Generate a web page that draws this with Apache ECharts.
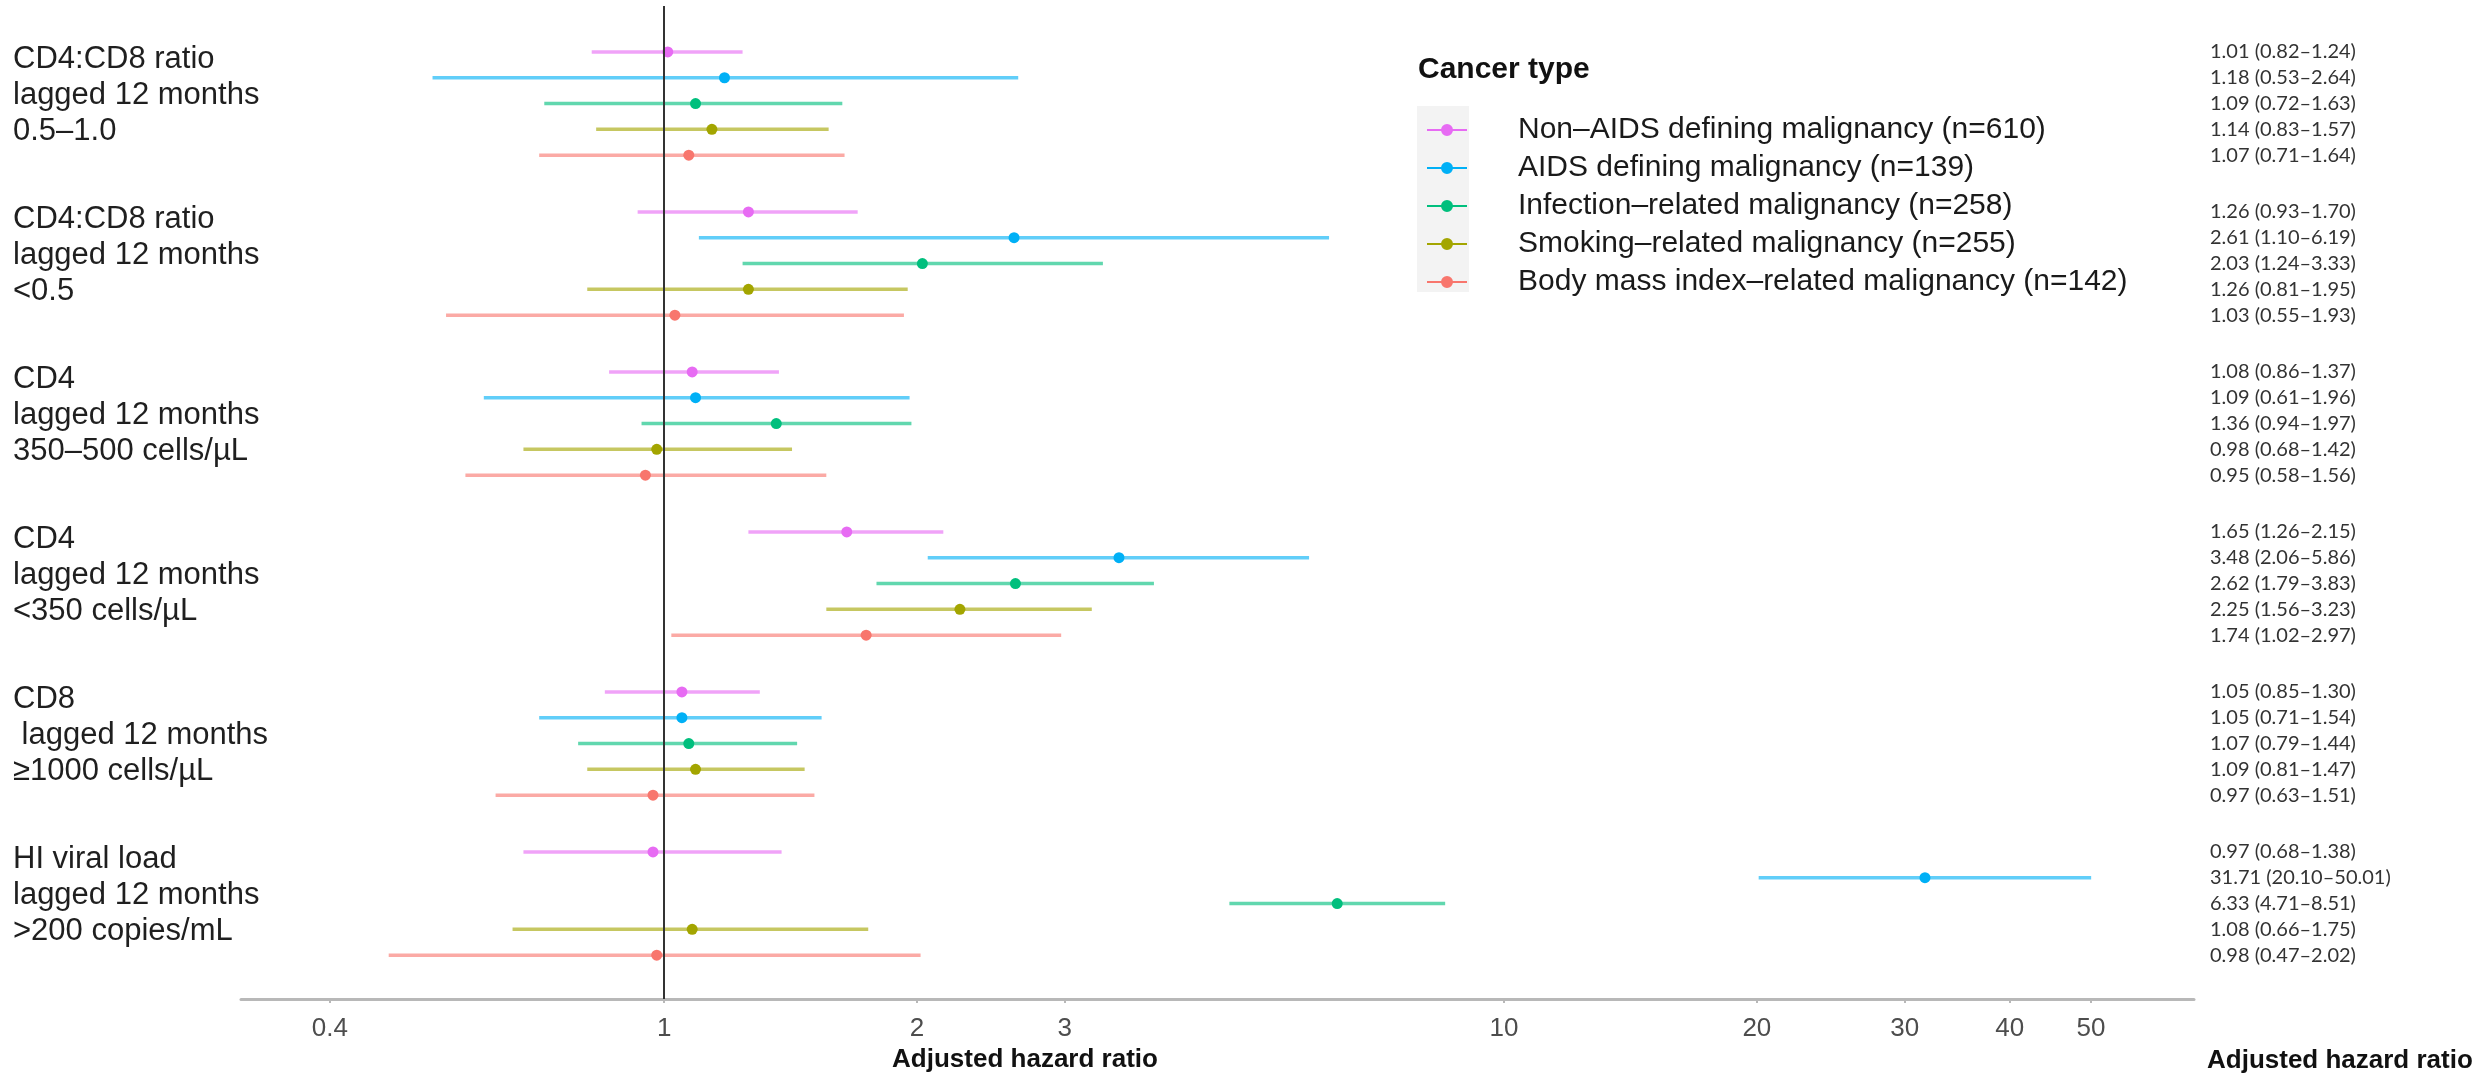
<!DOCTYPE html>
<html>
<head>
<meta charset="utf-8">
<script src="https://cdn.jsdelivr.net/npm/echarts@6/dist/echarts.min.js"></script>
<style>html,body{margin:0;padding:0;background:#fff;}#chart{width:2491px;height:1074px;}</style>
</head>
<body>
<div id="chart"></div>
<script>
// ---------------- data ----------------
const groupLabels = [
  'CD4:CD8 ratio\nlagged 12 months\n0.5–1.0',
  'CD4:CD8 ratio\nlagged 12 months\n<0.5',
  'CD4\nlagged 12 months\n350–500 cells/µL',
  'CD4\nlagged 12 months\n<350 cells/µL',
  'CD8\n lagged 12 months\n≥1000 cells/µL',
  'HI viral load\nlagged 12 months\n>200 copies/mL'
];
const cancerTypes = [
  'Non–AIDS defining malignancy (n=610)',
  'AIDS defining malignancy (n=139)',
  'Infection–related malignancy (n=258)',
  'Smoking–related malignancy (n=255)',
  'Body mass index–related malignancy (n=142)'
];
// hazard ratios and 95% CI per cancer type, one value per exposure group
const hrNonAids   = [1.01, 1.26, 1.08, 1.65, 1.05, 0.97];
const lowNonAids  = [0.82, 0.93, 0.86, 1.26, 0.85, 0.68];
const highNonAids = [1.24, 1.70, 1.37, 2.15, 1.30, 1.38];

const hrAids   = [1.18, 2.61, 1.09, 3.48, 1.05, 31.71];
const lowAids  = [0.53, 1.10, 0.61, 2.06, 0.71, 20.10];
const highAids = [2.64, 6.19, 1.96, 5.86, 1.54, 50.01];

const hrInfection   = [1.09, 2.03, 1.36, 2.62, 1.07, 6.33];
const lowInfection  = [0.72, 1.24, 0.94, 1.79, 0.79, 4.71];
const highInfection = [1.63, 3.33, 1.97, 3.83, 1.44, 8.51];

const hrSmoking   = [1.14, 1.26, 0.98, 2.25, 1.09, 1.08];
const lowSmoking  = [0.83, 0.81, 0.68, 1.56, 0.81, 0.66];
const highSmoking = [1.57, 1.95, 1.42, 3.23, 1.47, 1.75];

const hrBmi   = [1.07, 1.03, 0.95, 1.74, 0.97, 0.98];
const lowBmi  = [0.71, 0.55, 0.58, 1.02, 0.63, 0.47];
const highBmi = [1.64, 1.93, 1.56, 2.97, 1.51, 2.02];

const xTickValues = [0.4, 1, 2, 3, 10, 20, 30, 40, 50];

// ---------------- build ----------------
const colors = ['#E76BF3', '#00B0F6', '#00BF7D', '#A3A500', '#F8766D'];
const hrs   = [hrNonAids, hrAids, hrInfection, hrSmoking, hrBmi];
const lows  = [lowNonAids, lowAids, lowInfection, lowSmoking, lowBmi];
const highs = [highNonAids, highAids, highInfection, highSmoking, highBmi];

const GROUP_STEP = 6.2;
const yPos = (g, t) => g * GROUP_STEP + t;
const key = v => (Math.round(v * 100) / 100).toFixed(2);

const rightText = {};
const rightValues = [];
groupLabels.forEach((_, g) => {
  cancerTypes.forEach((_, t) => {
    const y = yPos(g, t);
    rightValues.push(y);
    rightText[key(y)] = hrs[t][g].toFixed(2) + ' (' + lows[t][g].toFixed(2) + '–' + highs[t][g].toFixed(2) + ')';
  });
});
const LABEL_ROW = 1.7; // group label block centre (slightly above middle row)
const leftText = {};
const leftValues = groupLabels.map((lab, g) => { const y = yPos(g, LABEL_ROW); leftText[key(y)] = lab; return y; });

const Y_MIN = -1.78, Y_MAX = 36.7;

function renderItem(params, api) {
  const y = api.value(3);
  const c = api.coord([api.value(0), y]);
  const a = api.coord([api.value(1), y]);
  const b = api.coord([api.value(2), y]);
  const color = api.visual('color');
  return {
    type: 'group',
    children: [
      { type: 'line', shape: { x1: a[0], y1: a[1], x2: b[0], y2: b[1] },
        style: { stroke: color, lineWidth: 3.5, opacity: 0.62 } },
      { type: 'circle', shape: { cx: c[0], cy: c[1], r: 5.5 }, style: { fill: color } }
    ]
  };
}

const series = cancerTypes.map((name, t) => ({
  name: name,
  type: 'custom',
  renderItem: renderItem,
  color: colors[t],
  itemStyle: { color: colors[t] },
  encode: { x: [0, 1, 2], y: 3 },
  data: groupLabels.map((_, g) => [hrs[t][g], lows[t][g], highs[t][g], yPos(g, t)]),
  z: 2
}));
series[0].markLine = {
  silent: true, symbol: ['none', 'none'], label: { show: false },
  lineStyle: { color: '#333', width: 2, type: 'solid', opacity: 1 },
  emphasis: { disabled: true },
  data: [{ xAxis: 1 }],
  z: 5
};

const FONT = 'Liberation Sans, Arial, sans-serif';
const chart = echarts.init(document.getElementById('chart'), null, { renderer: 'canvas' });
chart.setOption({
  animation: false,
  backgroundColor: '#ffffff',
  textStyle: { fontFamily: FONT },
  grid: { left: 241, right: 297, top: 6, bottom: 75, containLabel: false },
  xAxis: {
    type: 'log', logBase: 10, min: 0.3135, max: 66.3,
    axisLine: { show: true, onZero: false, lineStyle: { color: '#b8b8b8', width: 3 } },
    axisTick: { show: true, customValues: xTickValues, length: 4, lineStyle: { color: '#b8b8b8', width: 2 } },
    axisLabel: {
      customValues: xTickValues, margin: 17, fontSize: 26, color: '#4d4d4d', fontFamily: FONT,
      formatter: v => String(+(+v).toPrecision(3))
    },
    splitLine: { show: false }, minorTick: { show: false }, minorSplitLine: { show: false }
  },
  yAxis: [{
    type: 'value', inverse: true, min: Y_MIN, max: Y_MAX,
    axisLine: { show: false }, axisTick: { show: false }, splitLine: { show: false },
    axisLabel: {
      customValues: leftValues, align: 'left', margin: 228, fontSize: 31, lineHeight: 36,
      color: '#1f1f1f', fontFamily: FONT, verticalAlign: 'middle',
      formatter: v => leftText[key(v)] || ''
    }
  }, {
    type: 'value', inverse: true, min: Y_MIN, max: Y_MAX, position: 'right',
    axisLine: { show: false }, axisTick: { show: false }, splitLine: { show: false },
    axisLabel: {
      customValues: rightValues, align: 'left', margin: 16, fontSize: 20,
      color: '#333333', fontFamily: 'Lato, Liberation Sans, sans-serif', verticalAlign: 'middle',
      formatter: v => rightText[key(v)] || ''
    }
  }],
  legend: {
    orient: 'vertical', left: 1422, top: 110, itemGap: 8,
    itemWidth: 40, itemHeight: 12, selectedMode: false,
    icon: 'path://M0,5h40v2h-40z M26,6a6,6 0 1,1 -12,0a6,6 0 1,1 12,0z',
    textStyle: { fontSize: 30, lineHeight: 30, color: '#1a1a1a', fontFamily: FONT, padding: [0, 0, 0, 46] },
    data: cancerTypes
  },
  graphic: [
    { type: 'rect', left: 1417, top: 106, shape: { width: 52, height: 186 }, style: { fill: '#f3f3f3' }, z: -1 },
    { type: 'text', x: 1418, y: 70, style: { text: 'Cancer type', fontSize: 30, fontWeight: 'bold', fontFamily: FONT, fill: '#111', align: 'left', verticalAlign: 'middle' } },
    { type: 'text', x: 1025, y: 1060, style: { text: 'Adjusted hazard ratio', fontSize: 26, fontWeight: 'bold', fontFamily: FONT, fill: '#111', align: 'center', verticalAlign: 'middle' } },
    { type: 'text', x: 2207, y: 1061, style: { text: 'Adjusted hazard ratio', fontSize: 26, fontWeight: 'bold', fontFamily: FONT, fill: '#111', align: 'left', verticalAlign: 'middle' } }
  ],
  series: series
});
</script>
</body>
</html>
